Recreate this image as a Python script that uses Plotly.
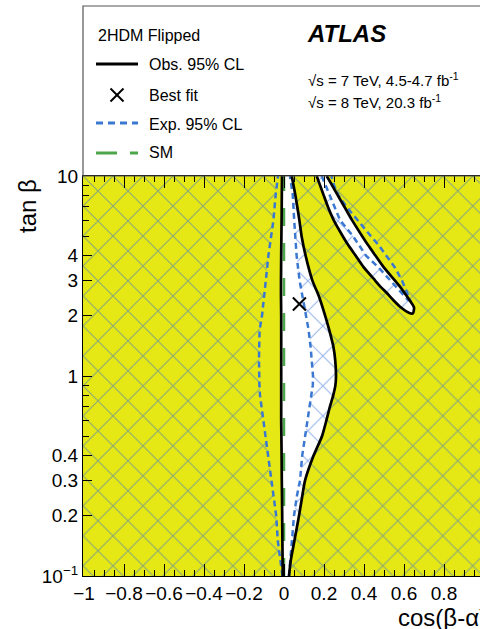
import plotly.graph_objects as go

# ---------------- data ----------------
# central band, common tan(beta) grid
TANB = [0.1, 0.12, 0.15, 0.2, 0.25, 0.3, 0.4, 0.5, 0.6, 0.7, 0.8, 0.9, 1.0,
        1.2, 1.4, 1.7, 2.0, 2.5, 3.0, 4.0, 5.0, 6.0, 8.0, 10]
OBS_LEFT = [-0.006, -0.007, -0.008, -0.009, -0.010, -0.011, -0.012, -0.013,
            -0.014, -0.014, -0.014, -0.014, -0.014, -0.014, -0.014, -0.014,
            -0.014, -0.015, -0.015, -0.014, -0.013, -0.012, -0.011, -0.010]
OBS_RIGHT = [0.025, 0.034, 0.052, 0.075, 0.091, 0.105, 0.148, 0.19, 0.212,
             0.229, 0.246, 0.257, 0.26, 0.256, 0.247, 0.226, 0.206, 0.175,
             0.142, 0.108, 0.088, 0.077, 0.057, 0.0385]
EXP_LEFT = [-0.0075, -0.017, -0.031, -0.039, -0.052, -0.062, -0.0815, -0.0955,
            -0.106, -0.114, -0.12, -0.123, -0.125, -0.125, -0.124, -0.122,
            -0.11, -0.098, -0.091, -0.078, -0.064, -0.053, -0.042, -0.03]
EXP_RIGHT = [0.025, 0.031, 0.038, 0.05, 0.064, 0.08, 0.091, 0.105, 0.115,
             0.126, 0.136, 0.144, 0.145, 0.14, 0.133, 0.123, 0.11, 0.092,
             0.078, 0.063, 0.055, 0.051, 0.044, 0.03]

# upper-right island
ISL_TANB = [2.06, 2.2, 2.4, 2.6, 2.8, 3.0, 3.5, 4.0, 4.5, 5.0, 6.0, 7.0, 8.0, 9.0, 10]
ISL_OBS_LEFT = [0.63, 0.585, 0.546, 0.514, 0.482, 0.456, 0.398, 0.358, 0.322,
                0.294, 0.249, 0.22, 0.1985, 0.18, 0.1635]
ISL_OBS_RIGHT = [0.645, 0.65, 0.627, 0.603, 0.58, 0.555, 0.498, 0.457, 0.421,
                 0.391, 0.341, 0.3025, 0.269, 0.24, 0.2135]
ISL_EXP_TANB = [2.4, 2.6, 2.8, 3.0, 3.5, 4.0, 4.5, 5.0, 6.0, 7.0, 8.0, 9.0, 10]
ISL_EXP_LEFT = [0.62, 0.59, 0.5635, 0.533, 0.4715, 0.41, 0.375, 0.345, 0.281,
                0.252, 0.227, 0.207, 0.1885]
ISL_EXP_RIGHT = [0.63, 0.617, 0.605, 0.59, 0.5535, 0.513, 0.474, 0.435, 0.368,
                 0.313, 0.2725, 0.25, 0.237]

SM_X = [0, 0]
SM_TANB = [0.1, 10]
BEST_X = [0.077]
BEST_TANB = [2.29]

X_TICKS = [-1, -0.8, -0.6, -0.4, -0.2, 0, 0.2, 0.4, 0.6, 0.8]
X_TICK_TEXT = ["\u22121", "\u22120.8", "\u22120.6", "\u22120.4", "\u22120.2",
               "0", "0.2", "0.4", "0.6", "0.8"]
X_MINOR = [round(-1 + 0.05 * i, 2) for i in range(40)]
Y_TICKS = [0.1, 0.2, 0.3, 0.4, 1, 2, 3, 4, 10]
Y_TICK_TEXT = ["10<sup>\u22121</sup>", "0.2", "0.3", "0.4", "1", "2", "3", "4", "10"]
Y_MINOR = [0.5, 0.6, 0.7, 0.8, 0.9, 5, 6, 7, 8, 9]

X_RANGE = [-1.005, 0.98]
Y_LIMITS = [0.1, 10]

# ---------------- styles ----------------
FONT = "Liberation Sans, Arial, Helvetica, sans-serif"
YELLOW = "#e5e815"
HATCH = "#2f6bd6"
BLUE = "#3b78d2"
GREEN = "#4ea64a"
L, T, W, H = 83, 176, 397, 400  # plot area in page pixels
FIG_W, FIG_H = 480, 629


def px_x(px):
    return (px - L) / W


def px_y(py):
    return (T + H - py) / H


hatch_on_yellow = dict(shape="x", size=21.2, solidity=0.1, fgcolor=HATCH, bgcolor=YELLOW)
hatch_on_white = dict(shape="x", size=21.2, solidity=0.1, fgcolor=HATCH, bgcolor="white")


def band_polygon(left, right, tanb):
    return list(left) + list(right)[::-1] + [left[0]], list(tanb) + list(tanb)[::-1] + [tanb[0]]


fig = go.Figure()

# whole region: observed excluded (yellow) + expected excluded (hatch)
fig.add_trace(go.Scatter(
    x=[X_RANGE[0], X_RANGE[1], X_RANGE[1], X_RANGE[0], X_RANGE[0]],
    y=[Y_LIMITS[0], Y_LIMITS[0], Y_LIMITS[1], Y_LIMITS[1], Y_LIMITS[0]],
    mode="lines", line=dict(width=0), fill="toself", fillcolor=YELLOW,
    fillpattern=hatch_on_yellow, hoverinfo="skip", showlegend=False))

# expected allowed: yellow without hatch
for lft, rgt, tb in [(EXP_LEFT, EXP_RIGHT, TANB), (ISL_EXP_LEFT, ISL_EXP_RIGHT, ISL_EXP_TANB)]:
    px_, py_ = band_polygon(lft, rgt, tb)
    fig.add_trace(go.Scatter(x=px_, y=py_, mode="lines", line=dict(width=0),
                             fill="toself", fillcolor=YELLOW, hoverinfo="skip",
                             showlegend=False))

# observed allowed: white with hatch
for lft, rgt, tb in [(OBS_LEFT, OBS_RIGHT, TANB), (ISL_OBS_LEFT, ISL_OBS_RIGHT, ISL_TANB)]:
    px_, py_ = band_polygon(lft, rgt, tb)
    fig.add_trace(go.Scatter(x=px_, y=py_, mode="lines", line=dict(width=0, shape="spline", smoothing=0.6),
                             fill="toself", fillcolor="white", fillpattern=hatch_on_white,
                             hoverinfo="skip", showlegend=False))

# observed allowed AND expected allowed: plain white
c_left = [max(a, b) for a, b in zip(OBS_LEFT, EXP_LEFT)]
c_right = [min(a, b) for a, b in zip(OBS_RIGHT, EXP_RIGHT)]
i_left, i_right = [], []
for t, el, er in zip(ISL_EXP_TANB, ISL_EXP_LEFT, ISL_EXP_RIGHT):
    k = ISL_TANB.index(t)
    i_left.append(max(el, ISL_OBS_LEFT[k]))
    i_right.append(min(er, ISL_OBS_RIGHT[k]))
for lft, rgt, tb in [(c_left, c_right, TANB), (i_left, i_right, ISL_EXP_TANB)]:
    px_, py_ = band_polygon(lft, rgt, tb)
    fig.add_trace(go.Scatter(x=px_, y=py_, mode="lines", line=dict(width=0),
                             fill="toself", fillcolor="white", hoverinfo="skip",
                             showlegend=False))

# SM line
fig.add_trace(go.Scatter(x=SM_X, y=SM_TANB, mode="lines",
                         line=dict(color=GREEN, width=2.5, dash="18px,17px"),
                         hoverinfo="skip", showlegend=False))

# expected contours (blue dashed)
exp_line = dict(color=BLUE, width=2.5, dash="6px,4px")
fig.add_trace(go.Scatter(x=EXP_LEFT, y=TANB, mode="lines", line=exp_line, showlegend=False))
fig.add_trace(go.Scatter(x=EXP_RIGHT, y=TANB, mode="lines", line=exp_line, showlegend=False))
fig.add_trace(go.Scatter(x=ISL_EXP_LEFT[::-1] + ISL_EXP_RIGHT, y=ISL_EXP_TANB[::-1] + ISL_EXP_TANB,
                         mode="lines", line=exp_line, showlegend=False))

# observed contours (black)
obs_line = dict(color="black", width=2.7, shape="spline", smoothing=0.6)
fig.add_trace(go.Scatter(x=OBS_LEFT, y=TANB, mode="lines", line=obs_line, showlegend=False))
fig.add_trace(go.Scatter(x=OBS_RIGHT, y=TANB, mode="lines", line=obs_line, showlegend=False))
fig.add_trace(go.Scatter(x=ISL_OBS_LEFT[::-1] + ISL_OBS_RIGHT, y=ISL_TANB[::-1] + ISL_TANB,
                         mode="lines", line=obs_line, showlegend=False))

# best fit
fig.add_trace(go.Scatter(x=BEST_X, y=BEST_TANB, mode="markers",
                         marker=dict(symbol="x-thin", size=13, color="black",
                                     line=dict(width=2, color="black")),
                         showlegend=False))

# ---------------- legend box & texts ----------------
shapes = [
    dict(type="rect", xref="paper", yref="paper", x0=px_x(83), x1=px_x(490),
         y0=px_y(176), y1=px_y(6), line=dict(color="#555555", width=1.2)),
    dict(type="line", xref="paper", yref="paper", x0=px_x(96), x1=px_x(138),
         y0=px_y(64), y1=px_y(64), line=dict(color="black", width=3)),
    dict(type="line", xref="paper", yref="paper", x0=px_x(110.5), x1=px_x(123.5),
         y0=px_y(88.5), y1=px_y(101.5), line=dict(color="black", width=2)),
    dict(type="line", xref="paper", yref="paper", x0=px_x(110.5), x1=px_x(123.5),
         y0=px_y(101.5), y1=px_y(88.5), line=dict(color="black", width=2)),
    dict(type="line", xref="paper", yref="paper", x0=px_x(96), x1=px_x(138),
         y0=px_y(123), y1=px_y(123), line=dict(color=BLUE, width=3, dash="7px,5px")),
    dict(type="line", xref="paper", yref="paper", x0=px_x(96), x1=px_x(138),
         y0=px_y(153), y1=px_y(153), line=dict(color=GREEN, width=3, dash="21px,13px")),
]


def txt(s, px, py, size=16, anchor="left", **kw):
    return dict(text=s, xref="paper", yref="paper", x=px_x(px), y=px_y(py),
                xanchor=anchor, yanchor="middle", showarrow=False,
                font=dict(family=FONT, size=size, color="black"), **kw)


annotations = [
    txt("2HDM Flipped", 96, 36),
    txt("Obs. 95% CL", 147, 65),
    txt("Best fit", 147, 95),
    txt("Exp. 95% CL", 147, 124),
    txt("SM", 147, 153),
    txt("<b><i>ATLAS</i></b>", 305, 33, size=24),
    txt("\u221as = 7 TeV, 4.5-4.7 fb<sup>-1</sup>", 306, 79, size=15),
    txt("\u221as = 8 TeV, 20.3 fb<sup>-1</sup>", 306, 101, size=15),
    txt("1", 484, 594, size=19, anchor="center"),
    txt("cos(\u03b2-\u03b1)", 396, 617, size=24, anchor="left"),
    dict(text="tan \u03b2", xref="paper", yref="paper", x=px_x(28), y=px_y(206),
         xanchor="center", yanchor="middle", textangle=-90, showarrow=False,
         font=dict(family=FONT, size=24, color="black")),
]

fig.update_layout(
    width=FIG_W, height=FIG_H,
    margin=dict(l=L, r=0, t=T, b=FIG_H - T - H),
    paper_bgcolor="white", plot_bgcolor="white",
    font=dict(family=FONT, size=19, color="black"),
    shapes=shapes, annotations=annotations,
    showlegend=False,
    xaxis=dict(range=X_RANGE, showgrid=False, zeroline=False, showline=True,
               linecolor="black", linewidth=1.2, mirror="ticks",
               ticks="inside", ticklen=12, tickwidth=1, tickcolor="black",
               tickvals=X_TICKS, ticktext=X_TICK_TEXT,
               tickfont=dict(family=FONT, size=19),
               minor=dict(ticks="inside", ticklen=6, tickwidth=1, tickcolor="black",
                          tickvals=X_MINOR, showgrid=False),
               automargin=False, fixedrange=True),
    yaxis=dict(type="log", range=[-1, 1], showgrid=False, zeroline=False, showline=True,
               linecolor="black", linewidth=1.2, mirror=False,
               ticks="inside", ticklen=9, tickwidth=1, tickcolor="black",
               tickvals=Y_TICKS, ticktext=Y_TICK_TEXT,
               tickfont=dict(family=FONT, size=19),
               minor=dict(ticks="inside", ticklen=6, tickwidth=1, tickcolor="black",
                          tickvals=Y_MINOR, showgrid=False),
               automargin=False, fixedrange=True),
)

fig.write_html(
    "out.html",
    config={"displayModeBar": False},
    post_script="document.body.style.margin='0';document.body.style.overflow='hidden';",
)
